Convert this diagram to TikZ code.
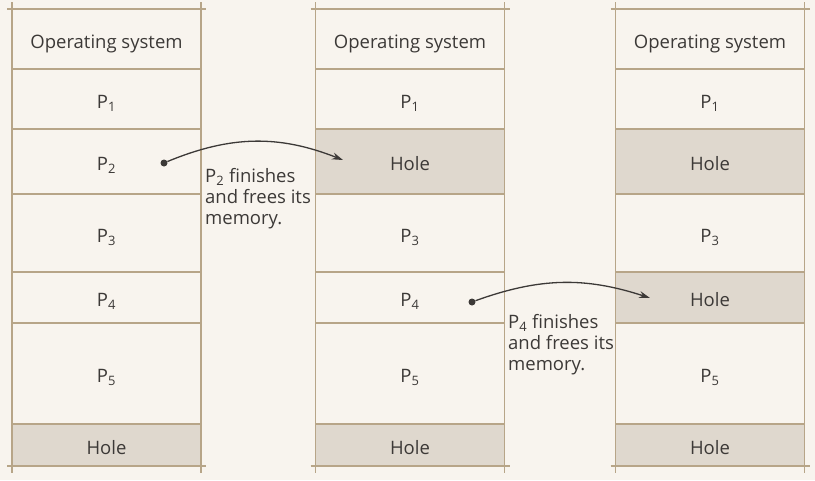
\documentclass[tikz,border=0pt]{standalone}
\usepackage{fontspec}
\setmainfont{Open Sans}
\usetikzlibrary{arrows.meta,positioning}
\definecolor{paper}{RGB}{248,244,238}
\definecolor{tan}{RGB}{183,165,136}
\definecolor{holefill}{RGB}{223,216,206}
\definecolor{ink}{RGB}{60,57,55}

\begin{document}
\begin{tikzpicture}[x=1pt,y=-1pt,node distance=0pt,
blk/.style={draw=tan,line width=1.7pt,outer sep=0pt,inner sep=0pt,
minimum width=189pt,text=ink,text height=18pt,text depth=0pt,
font=\fontsize{18.5}{21}\selectfont},
hole/.style={blk,fill=holefill},
rim/.style={draw=tan,line width=1.7pt},
dot/.style={circle,fill=ink,inner sep=0pt,minimum size=7pt},
note/.style={anchor=north west,align=left,inner sep=0pt,text=ink,
font=\fontsize{18.5}{21}\selectfont},
frees/.style={-{Stealth[length=11pt,width=7pt]},draw=ink,line width=1.3pt}]
\fill[paper] (0,0) rectangle (815,480);
\useasboundingbox (0,0) rectangle (815,480);
% first column
\node[blk,minimum height=60pt] (a0) at (106.5,39) {Operating system};
\node[blk,minimum height=60pt,below=of a0] (a1) {P\textsubscript{1}};
\node[blk,minimum height=65pt,below=of a1] (a2) {P\textsubscript{2}};
\node[blk,minimum height=78pt,below=of a2] (a3) {P\textsubscript{3}};
\node[blk,minimum height=51pt,below=of a3] (a4) {P\textsubscript{4}};
\node[blk,minimum height=101pt,below=of a4] (a5) {P\textsubscript{5}};
\node[hole,minimum height=42pt,below=of a5] (a6) {Hole};
% second column
\node[blk,minimum height=60pt] (b0) at (410,39) {Operating system};
\node[blk,minimum height=60pt,below=of b0] (b1) {P\textsubscript{1}};
\node[hole,minimum height=65pt,below=of b1] (b2) {Hole};
\node[blk,minimum height=78pt,below=of b2] (b3) {P\textsubscript{3}};
\node[blk,minimum height=51pt,below=of b3] (b4) {P\textsubscript{4}};
\node[blk,minimum height=101pt,below=of b4] (b5) {P\textsubscript{5}};
\node[hole,minimum height=42pt,below=of b5] (b6) {Hole};
% third column
\node[blk,minimum height=60pt] (c0) at (710,39) {Operating system};
\node[blk,minimum height=60pt,below=of c0] (c1) {P\textsubscript{1}};
\node[hole,minimum height=65pt,below=of c1] (c2) {Hole};
\node[blk,minimum height=78pt,below=of c2] (c3) {P\textsubscript{3}};
\node[hole,minimum height=51pt,below=of c3] (c4) {Hole};
\node[blk,minimum height=101pt,below=of c4] (c5) {P\textsubscript{5}};
\node[hole,minimum height=42pt,below=of c5] (c6) {Hole};
% edges run a little past the corners
\foreach \c in {a,b,c}{
\draw[rim] ([yshift=7pt]\c0.north west)--([yshift=-7pt]\c6.south west);
\draw[rim] ([yshift=7pt]\c0.north east)--([yshift=-7pt]\c6.south east);
\draw[rim] ([xshift=-5pt]\c0.north west)--([xshift=5pt]\c0.north east);
\draw[rim] ([xshift=-5pt]\c6.south west)--([xshift=5pt]\c6.south east);
}
% P2 leaves
\node[dot] (d1) at (164,163) {};
\coordinate (t1) at (343,160);
\draw[frees] (d1) to[bend left=22] (t1);
\node[note] (n1) at (205,168) {P\textsubscript{2} finishes\\and frees its\\memory.};
% P4 leaves
\node[dot] (d2) at (472,302) {};
\coordinate (t2) at (650,298);
\draw[frees] (d2) to[bend left=19] (t2);
\node[note] (n2) at (508,314) {P\textsubscript{4} finishes\\and frees its\\memory.};
\end{tikzpicture}
\end{document}
